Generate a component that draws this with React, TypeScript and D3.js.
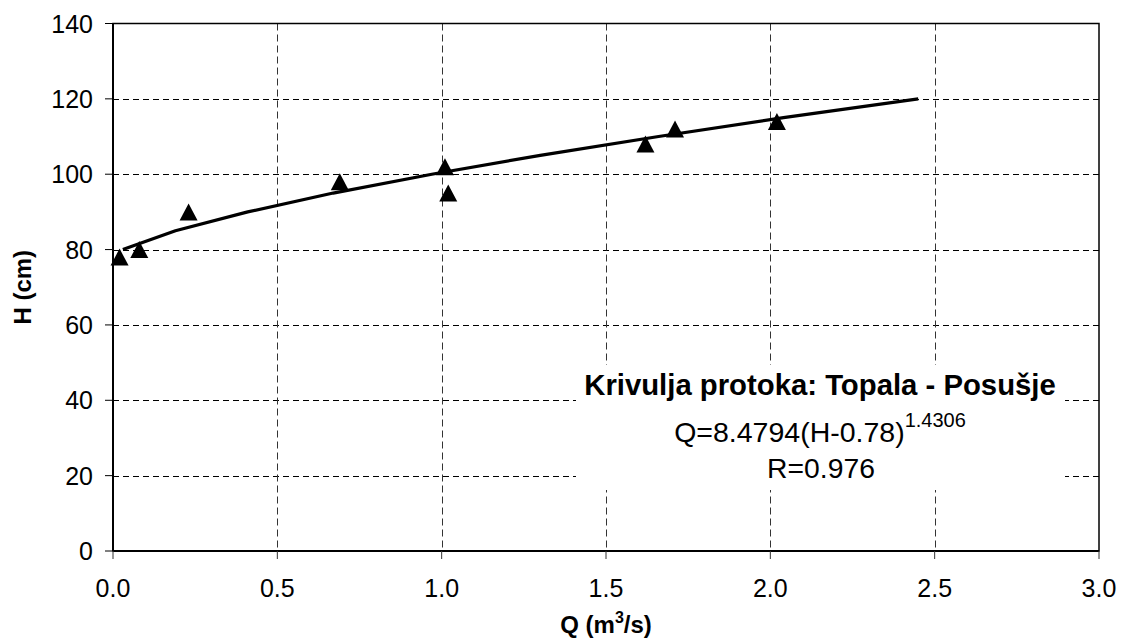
import React from "react";
import * as d3 from "d3";

const obsQ = [0.02, 0.08, 0.23, 0.69, 1.01, 1.02, 1.62, 1.71, 2.02];
const obsH = [78, 80, 90, 98, 102, 95, 108, 112, 114];

const curveQ = [0.03, 0.19, 0.41, 0.67, 0.97, 1.30, 1.66, 2.04, 2.45];
const curveH = [80, 85, 90, 95, 100, 105, 110, 115, 120];

const xTicks = [0, 0.5, 1.0, 1.5, 2.0, 2.5, 3.0];
const yTicks = [0, 20, 40, 60, 80, 100, 120, 140];

const W = 1124;
const H = 642;
const left = 113;
const right = 1099;
const top = 23.5;
const bottom = 551;
const FONT = "'Liberation Sans', Arial, sans-serif";

export default function App() {
  const x = d3.scaleLinear().domain([0, 3]).range([left, right]);
  const y = d3.scaleLinear().domain([0, 140]).range([bottom, top]);

  const line = d3
    .line<number>()
    .x((_, i) => x(curveQ[i]))
    .y((_, i) => y(curveH[i]));

  const tw = 18;
  const th = 17;
  const tri = `M0,${-th / 2}L${tw / 2},${th / 2}L${-tw / 2},${th / 2}Z`;

  return (
    <svg width={W} height={H} style={{ position: "absolute", left: 0, top: 0 }}>
      <rect x={0} y={0} width={W} height={H} fill="#fff" />
      {/* grid */}
      {yTicks.filter((t) => t > 0 && t < 140).map((t) => (
        <line key={"gy" + t} x1={left} x2={right} y1={Math.round(y(t)) + 0.5} y2={Math.round(y(t)) + 0.5}
          stroke="#000" strokeWidth={1} strokeDasharray="6,4" />
      ))}
      {xTicks.filter((t) => t > 0 && t < 3).map((t) => (
        <line key={"gx" + t} x1={Math.round(x(t)) + 0.5} x2={Math.round(x(t)) + 0.5} y1={top} y2={bottom}
          stroke="#333" strokeWidth={1} strokeDasharray="7,4" />
      ))}
      {/* text box background */}
      <rect x={576} y={365} width={489} height={125} fill="#fff" />
      {/* frame */}
      <rect x={left} y={top} width={right - left} height={bottom - top} fill="none" stroke="#000" strokeWidth={1.5} />
      <line x1={left} x2={left} y1={top} y2={bottom} stroke="#000" strokeWidth={2} />
      <line x1={left} x2={right} y1={bottom} y2={bottom} stroke="#000" strokeWidth={2} />
      {/* ticks */}
      {yTicks.map((t) => (
        <g key={"ty" + t}>
          <line x1={left - 8} x2={left} y1={y(t)} y2={y(t)} stroke="#000" strokeWidth={1} />
          <text x={93} y={y(t)} dy="0.36em" textAnchor="end" fontFamily={FONT} fontSize={25} fill="#000">
            {t}
          </text>
        </g>
      ))}
      {xTicks.map((t) => (
        <g key={"tx" + t}>
          <line x1={x(t)} x2={x(t)} y1={bottom} y2={bottom + 8} stroke="#333" strokeWidth={1} />
          <text x={x(t)} y={597} textAnchor="middle" fontFamily={FONT} fontSize={25} fill="#000">
            {d3.format(".1f")(t)}
          </text>
        </g>
      ))}
      {/* curve */}
      <path d={line(curveQ) || ""} fill="none" stroke="#000" strokeWidth={3.2} strokeLinejoin="round" />
      {/* points */}
      {obsQ.map((q, i) => (
        <path key={"p" + i} d={tri} transform={`translate(${x(q)},${y(obsH[i])})`} fill="#000" />
      ))}
      {/* annotation */}
      <text x={820} y={395} textAnchor="middle" fontFamily={FONT} fontSize={29.3} fontWeight="bold" fill="#000">
        Krivulja protoka: Topala - Posušje
      </text>
      <text x={820} y={442} textAnchor="middle" fontFamily={FONT} fontSize={28.5} fill="#000">
        Q=8.4794(H-0.78)
        <tspan dy={-15} fontSize={20}>1.4306</tspan>
      </text>
      <text x={821} y={478} textAnchor="middle" fontFamily={FONT} fontSize={28.3} fill="#000">
        R=0.976
      </text>
      {/* axis titles */}
      <text transform={`translate(31,${(top + bottom) / 2}) rotate(-90)`} textAnchor="middle" fontFamily={FONT}
        fontSize={24} fontWeight="bold" fill="#000">
        H (cm)
      </text>
      <text x={(left + right) / 2} y={633} textAnchor="middle" fontFamily={FONT} fontSize={24} fontWeight="bold" fill="#000">
        Q (m<tspan dy={-10} fontSize={16}>3</tspan><tspan dy={10}>/s)</tspan>
      </text>
    </svg>
  );
}
